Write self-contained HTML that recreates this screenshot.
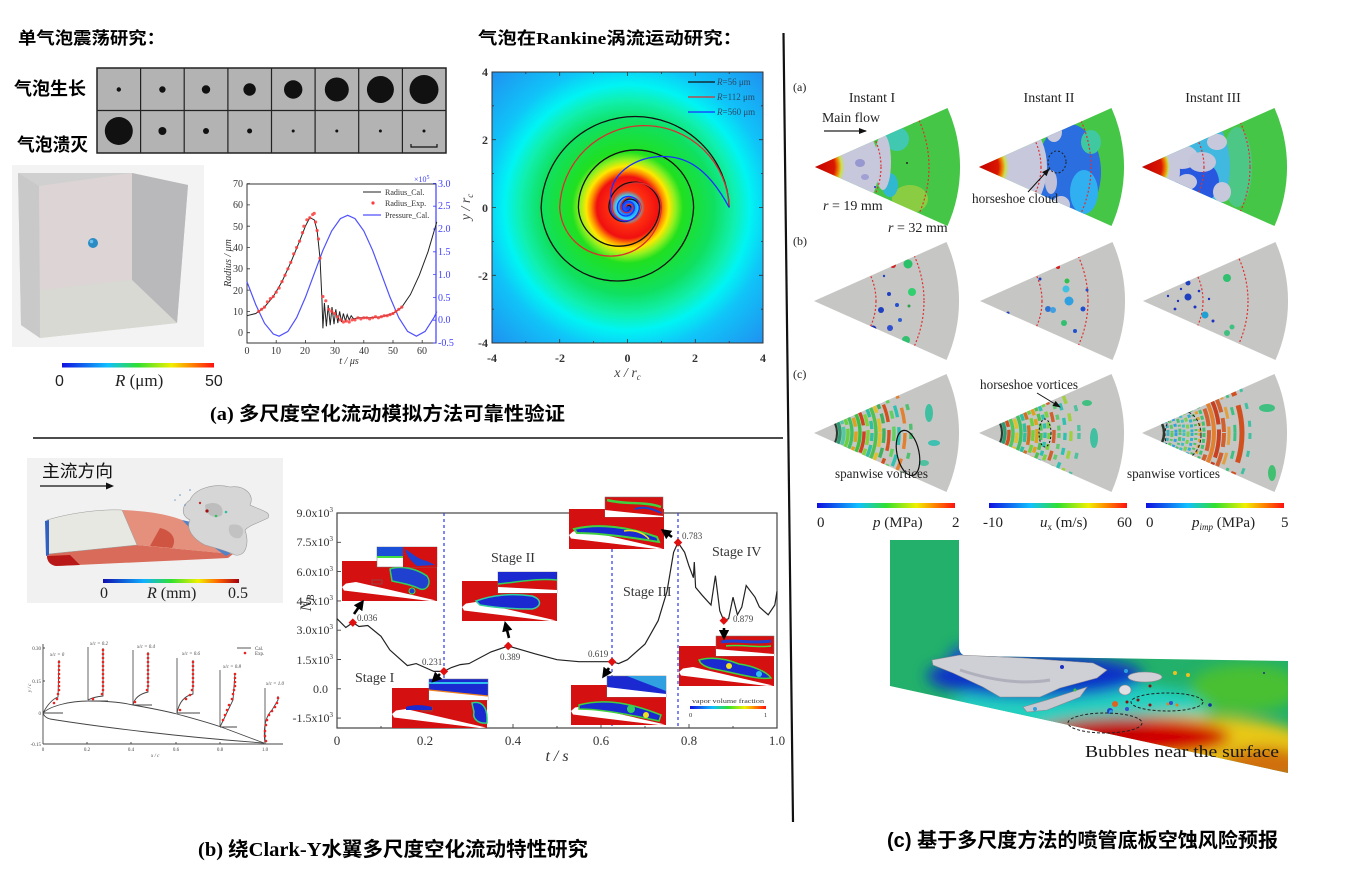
<!DOCTYPE html>
<html><head><meta charset="utf-8"><style>
html,body{margin:0;padding:0;background:#fff;}
svg{display:block;}
.cjk{font-family:"Liberation Serif","Noto Sans CJK SC",sans-serif;font-weight:bold;}
.sans{font-family:"Liberation Sans","Noto Sans CJK SC",sans-serif;}
.ser{font-family:"Liberation Serif","Noto Serif CJK SC",serif;}
</style></head><body>
<svg width="1361" height="877" viewBox="0 0 1361 877" xmlns="http://www.w3.org/2000/svg">
<defs>
<linearGradient id="jet" x1="0" x2="1" y1="0" y2="0"><stop offset="0" stop-color="#1010e0"/><stop offset=".3" stop-color="#10c0ff"/><stop offset=".5" stop-color="#30e030"/><stop offset=".72" stop-color="#f0f000"/><stop offset=".86" stop-color="#ff8000"/><stop offset="1" stop-color="#ff1010"/></linearGradient>
<linearGradient id="jet2" x1="0" x2="1" y1="0" y2="0"><stop offset="0" stop-color="#1010b0"/><stop offset=".3" stop-color="#10b0ff"/><stop offset=".5" stop-color="#30e030"/><stop offset=".7" stop-color="#f0f000"/><stop offset=".85" stop-color="#ff6000"/><stop offset="1" stop-color="#a00010"/></linearGradient>
<radialGradient id="rk" gradientUnits="userSpaceOnUse" cx="627.5" cy="207.5" r="192">
<stop offset="0" stop-color="#1030ff"/><stop offset=".035" stop-color="#1a7cff"/><stop offset=".06" stop-color="#30d8ff"/><stop offset=".09" stop-color="#ff3010"/><stop offset=".16" stop-color="#f01010"/><stop offset=".19" stop-color="#ff9000"/><stop offset=".215" stop-color="#ffe800"/><stop offset=".25" stop-color="#90f020"/><stop offset=".29" stop-color="#20e020"/><stop offset=".45" stop-color="#10e060"/><stop offset=".56" stop-color="#10f0b0"/><stop offset=".64" stop-color="#00f4f4"/><stop offset=".75" stop-color="#10c4f8"/><stop offset="1" stop-color="#2090f0"/>
</radialGradient>
<radialGradient id="tip" gradientUnits="userSpaceOnUse" cx="0" cy="0" r="30"><stop offset="0" stop-color="#c80000"/><stop offset=".65" stop-color="#d81800"/><stop offset=".78" stop-color="#f08000"/><stop offset=".88" stop-color="#c8e050"/><stop offset="1" stop-color="#c8c8da"/></radialGradient>
<clipPath id="wedge"><path d="M0,0 L132.5,-59 A145,145 0 0 1 132.5,59 Z"/></clipPath>
<clipPath id="rkclip"><rect x="492" y="72" width="271" height="271"/></clipPath>
<clipPath id="noz"><path d="M890,540 L959,540 L959,648 Q960,656 968,656 L1288,661 L1288,773 L890,686 Z"/></clipPath>
<filter id="blur" x="-50%" y="-50%" width="200%" height="200%"><feGaussianBlur stdDeviation="7"/></filter>
<marker id="ah" markerWidth="4" markerHeight="4" refX="2" refY="2" orient="auto"><path d="M0,0 L4,2 L0,4 Z" fill="#000"/></marker>
<marker id="ah2" markerWidth="8" markerHeight="6" refX="7" refY="3" orient="auto" markerUnits="userSpaceOnUse"><path d="M0,0 L8,3 L0,6 Z" fill="#111"/></marker>
<g id="inset"><rect x="0" y="0" width="95" height="40" fill="#d41010"/><polygon points="0,26 4,22.5 14,21 94,39.5 88,40 2,29.5" fill="#fff"/><rect x="30" y="19" width="10" height="4" fill="none" stroke="#666" stroke-width=".6"/></g>
</defs>

<rect width="1361" height="877" fill="#fff"/>

<line x1="33" y1="438" x2="783" y2="438" stroke="#111" stroke-width="1.6"/>
<line x1="783.5" y1="33" x2="793" y2="822" stroke="#111" stroke-width="2.2"/>

<text x="18" y="44" class="cjk" font-size="17" textLength="147" lengthAdjust="spacingAndGlyphs">单气泡震荡研究：</text>
<text x="14" y="95" class="cjk" font-size="18" textLength="72" lengthAdjust="spacingAndGlyphs">气泡生长</text>
<text x="17" y="151" class="cjk" font-size="18" textLength="71" lengthAdjust="spacingAndGlyphs">气泡溃灭</text>

<rect x="97" y="68" width="349" height="85" fill="#b3b3b3" stroke="#222" stroke-width="1.5"/>
<g stroke="#222" stroke-width="1.2">
<line x1="140.6" y1="68" x2="140.6" y2="153"/><line x1="184.2" y1="68" x2="184.2" y2="153"/><line x1="227.9" y1="68" x2="227.9" y2="153"/><line x1="271.5" y1="68" x2="271.5" y2="153"/><line x1="315.1" y1="68" x2="315.1" y2="153"/><line x1="358.7" y1="68" x2="358.7" y2="153"/><line x1="402.4" y1="68" x2="402.4" y2="153"/><line x1="97" y1="110.5" x2="446" y2="110.5"/>
</g>
<g fill="#111">
<circle cx="118.8" cy="89.5" r="2.2"/><circle cx="162.4" cy="89.5" r="3.2"/><circle cx="206" cy="89.5" r="4.2"/><circle cx="249.6" cy="89.5" r="6.2"/><circle cx="293.2" cy="89.5" r="9.2"/><circle cx="336.8" cy="89.5" r="12"/><circle cx="380.4" cy="89.5" r="13.5"/><circle cx="424" cy="89.5" r="14.5"/>
<circle cx="118.8" cy="131" r="14"/><circle cx="162.4" cy="131" r="4"/><circle cx="206" cy="131" r="3"/><circle cx="249.6" cy="131" r="2.5"/><circle cx="293.2" cy="131" r="1.5"/><circle cx="336.8" cy="131" r="1.5"/><circle cx="380.4" cy="131" r="1.5"/><circle cx="424" cy="131" r="1.5"/>
</g>
<path d="M411,144 L411,147 L437,147 L437,144" fill="none" stroke="#111" stroke-width="1.2"/>

<rect x="12" y="165" width="192" height="182" fill="#f3f3f3"/>
<polygon points="18,173 132,173 188,185 177,323 40,338 21,325" fill="#d0d0d0"/>
<polygon points="39,186 132,173 132,280 40,290" fill="#ddd5d5"/>
<polygon points="132,173 188,185 177,323 132,280" fill="#b9b9bc"/>
<polygon points="40,290 132,280 177,323 40,338" fill="#d9d9d3"/>
<polygon points="18,173 39,186 40,338 21,325" fill="#c9c9c9"/>
<circle cx="93" cy="243" r="5" fill="#2a8cc4"/>
<circle cx="91.5" cy="241.5" r="1.8" fill="#6cc0ea"/>
<rect x="62" y="363" width="152" height="4.5" fill="url(#jet)"/>
<text x="55" y="386" class="sans" font-size="16" fill="#222">0</text>
<text x="115" y="386" class="ser" font-size="17" fill="#222"><tspan font-style="italic">R</tspan> (μm)</text>
<text x="205" y="386" class="sans" font-size="16" fill="#222">50</text>

<rect x="247" y="184" width="189" height="159" fill="none" stroke="#333" stroke-width="1"/>
<line x1="436" y1="184" x2="436" y2="343" stroke="#4040ff" stroke-width="1.2"/>
<g stroke="#333" stroke-width=".8">
<path d="M247,332.7h3M247,311.4h3M247,290.1h3M247,268.8h3M247,247.5h3M247,226.2h3M247,204.9h3M247,183.6h3M247,343v-3M276.2,343v-3M305.4,343v-3M334.6,343v-3M363.8,343v-3M393,343v-3M422.2,343v-3"/>
</g>
<path d="M436,343h-3M436,320.2h-3M436,297.4h-3M436,274.6h-3M436,251.8h-3M436,229h-3M436,206.2h-3M436,183.4h-3" stroke="#4040ff" stroke-width=".8"/>
<g class="ser" font-size="10" fill="#333" text-anchor="end">
<text x="243" y="336">0</text><text x="243" y="315">10</text><text x="243" y="294">20</text><text x="243" y="272">30</text><text x="243" y="251">40</text><text x="243" y="230">50</text><text x="243" y="208">60</text><text x="243" y="187">70</text>
</g>
<g class="ser" font-size="10" fill="#333" text-anchor="middle">
<text x="247" y="354">0</text><text x="276" y="354">10</text><text x="305" y="354">20</text><text x="335" y="354">30</text><text x="364" y="354">40</text><text x="393" y="354">50</text><text x="422" y="354">60</text>
</g>
<text x="349" y="364" class="ser" font-size="10" font-style="italic" fill="#333" text-anchor="middle">t / μs</text>
<text transform="translate(231,263) rotate(-90)" class="ser" font-size="10" font-style="italic" fill="#333" text-anchor="middle">Radius / μm</text>
<g class="ser" font-size="10" fill="#4040ff">
<text x="438" y="187">3.0</text><text x="438" y="209">2.5</text><text x="438" y="232">2.0</text><text x="438" y="255">1.5</text><text x="438" y="278">1.0</text><text x="438" y="301">0.5</text><text x="438" y="323">0.0</text><text x="438" y="346">-0.5</text>
<text x="414" y="182" font-size="8">×10<tspan dy="-3" font-size="6">5</tspan></text>
</g>
<polyline fill="none" stroke="#5050ff" stroke-width="1.2" points="247,281.8 255.8,304.8 264.5,323.2 273.3,334 279.1,336.2 287.9,331.4 296.6,317.7 305.4,297.4 314.2,273.7 322.9,250.3 331.7,230.9 340.4,218.6 347.7,215.3 355,218.6 363.8,230.9 372.6,250.3 381.3,273.7 390.1,297.4 398.8,317.7 407.6,331.4 416.4,336.2 425.1,331.4 433.9,317.7 436.8,311.6"/>
<polyline fill="none" stroke="#222" stroke-width="1" points="247,315.7 255.8,313.5 264.5,307.1 273.3,296.5 282,281.6 290.8,262.4 299.6,241.1 305.4,226.2 309.8,217.7 314.2,219.8 317.1,230.5 320,258.1 322,300.8 322.9,328.4 324.4,302.9 326.4,326.3 328.2,305 330.2,325.2 332,307.1 334,324.2 335.8,309.3 337.8,323.1 339.6,311.4 341.6,322 343.4,313.5 345.4,321 347.2,314.6 349.2,319.9 351.2,315.7 353.6,318.9 358,317.8 369.6,317.8 381.3,316.7 393,313.5 401.8,307.1 410.5,294.4 419.3,275.2 428,251.8 436.8,221.9"/>
<g fill="#ff3b3b" opacity=".85">
<circle cx="258.7" cy="311.4" r="1.6"/><circle cx="261.6" cy="309.3" r="1.6"/><circle cx="264.5" cy="307.1" r="1.6"/><circle cx="267.4" cy="301.8" r="1.6"/><circle cx="270.4" cy="298.6" r="1.6"/><circle cx="273.3" cy="296.5" r="1.6"/><circle cx="276.2" cy="292.2" r="1.6"/><circle cx="279.1" cy="288" r="1.6"/><circle cx="282" cy="281.6" r="1.6"/><circle cx="285" cy="275.2" r="1.6"/><circle cx="287.9" cy="268.8" r="1.6"/><circle cx="290.8" cy="262.4" r="1.6"/><circle cx="293.7" cy="253.9" r="1.6"/><circle cx="296.6" cy="247.5" r="1.6"/><circle cx="299.6" cy="241.1" r="1.6"/><circle cx="302.5" cy="232.6" r="1.6"/><circle cx="303.9" cy="226.2" r="1.6"/><circle cx="306.9" cy="219.8" r="1.6"/><circle cx="309.8" cy="217.7" r="1.6"/><circle cx="312.7" cy="214.5" r="1.6"/><circle cx="314.2" cy="213.4" r="1.6"/><circle cx="315.6" cy="222" r="1.6"/><circle cx="317.1" cy="230.5" r="1.6"/><circle cx="318.5" cy="239" r="1.6"/><circle cx="320" cy="258.1" r="1.6"/>
<circle cx="322.9" cy="296.5" r="1.6"/><circle cx="325.8" cy="300.8" r="1.6"/><circle cx="328.8" cy="309.3" r="1.6"/><circle cx="331.7" cy="311.4" r="1.6"/><circle cx="334.6" cy="313.5" r="1.6"/><circle cx="337.5" cy="316.7" r="1.6"/><circle cx="340.4" cy="319.9" r="1.6"/><circle cx="343.4" cy="322" r="1.6"/><circle cx="346.3" cy="321" r="1.6"/><circle cx="349.2" cy="322" r="1.6"/><circle cx="352.1" cy="319.9" r="1.6"/><circle cx="355" cy="319.9" r="1.6"/><circle cx="358" cy="317.8" r="1.6"/><circle cx="360.9" cy="318.9" r="1.6"/><circle cx="363.8" cy="317.8" r="1.6"/><circle cx="366.7" cy="317.8" r="1.6"/><circle cx="369.6" cy="318.9" r="1.6"/><circle cx="372.6" cy="317.8" r="1.6"/><circle cx="375.5" cy="316.7" r="1.6"/><circle cx="378.4" cy="317.8" r="1.6"/><circle cx="381.3" cy="316.7" r="1.6"/><circle cx="384.2" cy="315.7" r="1.6"/><circle cx="387.2" cy="315.7" r="1.6"/><circle cx="390.1" cy="314.6" r="1.6"/><circle cx="393" cy="313.5" r="1.6"/><circle cx="395.9" cy="311.4" r="1.6"/><circle cx="398.8" cy="309.3" r="1.6"/><circle cx="401.8" cy="307.1" r="1.6"/>
</g>
<line x1="363" y1="192" x2="381" y2="192" stroke="#222" stroke-width="1"/>
<circle cx="373" cy="203" r="1.6" fill="#ff3b3b"/>
<line x1="363" y1="215" x2="381" y2="215" stroke="#5050ff" stroke-width="1.2"/>
<g class="ser" font-size="8" fill="#333"><text x="385" y="195">Radius_Cal.</text><text x="385" y="206">Radius_Exp.</text><text x="385" y="218">Pressure_Cal.</text></g>

<text x="478" y="44" class="cjk" font-size="17" textLength="264" lengthAdjust="spacingAndGlyphs">气泡在Rankine涡流运动研究：</text>
<rect x="492" y="72" width="271" height="271" fill="url(#rk)"/>
<g clip-path="url(#rkclip)" fill="none" stroke-width="1.3">
<path stroke="#111" d="M729.2,207.5 A94.1,94.1 0 0 0 541.1,207.5 A76.3,76.3 0 0 0 693.6,207.5 A57.6,57.6 0 0 0 578.4,207.5 A40.7,40.7 0 0 0 659.7,207.5 A25.4,25.4 0 0 0 608.9,207.5 A15.3,15.3 0 0 0 639.4,207.5 A9.4,9.4 0 0 0 620.7,207.5 A5.2,5.2 0 0 0 630.9,207.5 A2.6,2.6 0 0 0 625.8,207.5"/>
<path stroke="#d83030" d="M729.2,207.5 A84.8,84.8 0 0 0 559.7,207.5 A50.9,50.9 0 0 0 661.4,207.5 A24.6,24.6 0 0 0 612.2,207.5 A14.5,14.5 0 0 0 641.1,207.5 A10.2,10.2 0 0 0 620.7,207.5 A6,6 0 0 0 632.6,207.5 A3.4,3.4 0 0 0 625.8,207.5"/>
<path stroke="#1a30ff" d="M729.2,207.5 C705.5,163.4 681.7,155 658,156.65 C634.3,158.3 608.9,173.6 610.55,200.7 L610.55,207.5 A14.45,14.45 0 0 0 639.4,207.5 A11.05,11.05 0 0 0 617.3,207.5 A8.5,8.5 0 0 0 634.3,207.5 A5.95,5.95 0 0 0 622.4,207.5 A4.25,4.25 0 0 0 630.9,207.5"/>
</g>
<rect x="492" y="72" width="271" height="271" fill="none" stroke="#333" stroke-width="1"/>
<path stroke="#333" stroke-width=".8" d="M491.9,343v-4M525.8,343v-2M559.7,343v-4M593.6,343v-2M627.5,343v-4M661.4,343v-2M695.3,343v-4M729.2,343v-2M763.1,343v-4M491.9,72v4M525.8,72v2M559.7,72v4M593.6,72v2M627.5,72v4M661.4,72v2M695.3,72v4M729.2,72v2M763.1,72v4M492,71.9h4M492,105.8h2M492,139.7h4M492,173.6h2M492,207.5h4M492,241.4h2M492,275.3h4M492,309.2h2M492,343.1h4M763,71.9h-4M763,105.8h-2M763,139.7h-4M763,173.6h-2M763,207.5h-4M763,241.4h-2M763,275.3h-4M763,309.2h-2M763,343.1h-4"/>
<g class="ser" font-size="12" font-weight="bold" fill="#333" text-anchor="end">
<text x="488" y="76">4</text><text x="488" y="144">2</text><text x="488" y="212">0</text><text x="488" y="280">-2</text><text x="488" y="347">-4</text>
</g>
<g class="ser" font-size="12" font-weight="bold" fill="#333" text-anchor="middle">
<text x="492" y="362">-4</text><text x="560" y="362">-2</text><text x="627.5" y="362">0</text><text x="695" y="362">2</text><text x="763" y="362">4</text>
</g>
<text x="627.5" y="377" class="ser" font-size="14" font-style="italic" fill="#444" text-anchor="middle">x / r<tspan font-size="9" dy="3">c</tspan></text>
<text transform="translate(470,207) rotate(-90)" class="ser" font-size="14" font-style="italic" fill="#444" text-anchor="middle">y / r<tspan font-size="9" dy="3">c</tspan></text>
<line x1="688" y1="82" x2="715" y2="82" stroke="#111" stroke-width="1.2"/>
<line x1="688" y1="97" x2="715" y2="97" stroke="#d83030" stroke-width="1.2"/>
<line x1="688" y1="112" x2="715" y2="112" stroke="#1a30ff" stroke-width="1.2"/>
<g class="ser" font-size="9" fill="#2a4a6a"><text x="717" y="85"><tspan font-style="italic">R</tspan>=56 μm</text><text x="717" y="100"><tspan font-style="italic">R</tspan>=112 μm</text><text x="717" y="115"><tspan font-style="italic">R</tspan>=560 μm</text></g>

<text x="210" y="420" class="cjk" font-size="19" textLength="355" lengthAdjust="spacingAndGlyphs">(a) 多尺度空化流动模拟方法可靠性验证</text>

<rect x="27" y="458" width="256" height="145" fill="#f1f1f1"/>
<text x="42" y="477" class="sans" font-size="17" fill="#111" textLength="71" lengthAdjust="spacingAndGlyphs">主流方向</text>
<line x1="40" y1="486" x2="108" y2="486" stroke="#111" stroke-width="1.3"/>
<path d="M106,482.5 L114,486 L106,489.5 Z" fill="#111"/>
<path d="M47,556 C47,561 50,565 56,566 L228,558 L233,554 L137,545 L48,554 Z" fill="#d96b5a"/>
<path d="M47,556 C47,561 50,565 56,566 L80,565 L70,555 Z" fill="#b81818"/>
<path d="M122,510 C150,511 170,515 182,520 L200,535 L232,554 L137,545 Z" fill="#e4907d"/>
<path d="M160,528 C170,530 178,538 172,548 L150,546 Z" fill="#c83a2a" opacity=".7"/>
<path d="M182,520 L200,524 L233,552 L226,556 L198,536 Z" fill="#5282c8"/>
<path d="M47,520 C70,513 100,509 122,510 L137,545 L48,554 Z" fill="#e8e8e3" stroke="#999" stroke-width=".5"/>
<path d="M45,521 L49,520 L49,555 L46,556 Z" fill="#3060c0"/>
<path d="M190,500 C195,488 215,483 230,487 C245,485 255,495 250,505 C260,510 272,512 268,518 C258,523 250,525 245,530 C250,545 245,557 235,555 C225,550 215,548 205,545 C195,540 185,530 190,520 C180,515 182,505 190,500 Z" fill="#d6d6d6" stroke="#9a9a9a" stroke-width=".6"/>
<path d="M205,505 C215,500 225,505 222,515 C215,520 205,515 205,505 Z" fill="#bdbdbd"/>
<path d="M230,525 C240,522 248,530 240,538 C232,540 226,532 230,525 Z" fill="#c2c2c2"/>
<g><circle cx="207" cy="511" r="1.6" fill="#a01010"/><circle cx="216" cy="516" r="1.3" fill="#30c060"/><circle cx="226" cy="512" r="1.3" fill="#30c0a0"/><circle cx="200" cy="503" r="1.2" fill="#c03030"/><circle cx="190" cy="490" r="0.8" fill="#6090c0"/><circle cx="180" cy="495" r="0.8" fill="#6090c0"/><circle cx="175" cy="500" r="0.8" fill="#80a0c0"/><circle cx="185" cy="505" r="0.8" fill="#6090c0"/></g>
<rect x="103" y="579" width="136" height="4" fill="url(#jet2)"/>
<g class="ser" font-size="16" fill="#222"><text x="100" y="598">0</text><text x="147" y="598"><tspan font-style="italic">R</tspan> (mm)</text><text x="228" y="598">0.5</text></g>

<g stroke="#444" stroke-width=".9" fill="none">
<line x1="43" y1="644" x2="43" y2="744"/><line x1="43" y1="744" x2="283" y2="744"/>
<path d="M43,713 C50,706 70,701 88,701 C105,701 120,702 133,705 C150,708 165,711 177,714 C195,719 210,723 221,727 C235,732 250,738 264,743"/>
<path d="M43,713 C44,716 46,718 50,719 C100,727 180,737 264,743"/>
<path d="M43,713h20M88,701h20M133,705h19M177,713h23M220,727h17M265,744h17"/>
<path d="M88,647V700M133,650V705M177,658V713M220,670V727M265,688V744" stroke="#555"/>
<path d="M43,713 Q50,700 58,697 L59,660M88,700 Q93,697 103,696 L103,648M133,705 Q135,695 148,692 L148,652M177,713 Q180,697 193,694 L193,660M220,727 L233,700 L235,673M265,744 Q262,720 272,710 L278,700 L278,696"/>
<path d="M43,648h2M43,681h2M43,713h2M87,744v-2M131,744v-2M176,744v-2M220,744v-2M265,744v-2"/>
</g>
<g fill="#ee2020">
<circle cx="59" cy="662" r="1.3"/><circle cx="59" cy="666" r="1.3"/><circle cx="59" cy="670" r="1.3"/><circle cx="59" cy="674" r="1.3"/><circle cx="59" cy="678" r="1.3"/><circle cx="59" cy="682" r="1.3"/><circle cx="59" cy="686" r="1.3"/><circle cx="59" cy="690" r="1.3"/><circle cx="58" cy="694" r="1.3"/><circle cx="57" cy="699" r="1.3"/><circle cx="54" cy="703" r="1.3"/>
<circle cx="103" cy="650" r="1.3"/><circle cx="103" cy="654" r="1.3"/><circle cx="103" cy="658" r="1.3"/><circle cx="103" cy="662" r="1.3"/><circle cx="103" cy="666" r="1.3"/><circle cx="103" cy="670" r="1.3"/><circle cx="103" cy="674" r="1.3"/><circle cx="103" cy="678" r="1.3"/><circle cx="103" cy="682" r="1.3"/><circle cx="103" cy="686" r="1.3"/><circle cx="103" cy="690" r="1.3"/><circle cx="102" cy="694" r="1.3"/><circle cx="93" cy="699" r="1.3"/>
<circle cx="148" cy="654" r="1.3"/><circle cx="148" cy="658" r="1.3"/><circle cx="148" cy="662" r="1.3"/><circle cx="148" cy="666" r="1.3"/><circle cx="148" cy="670" r="1.3"/><circle cx="148" cy="674" r="1.3"/><circle cx="148" cy="678" r="1.3"/><circle cx="148" cy="682" r="1.3"/><circle cx="148" cy="686" r="1.3"/><circle cx="147" cy="690" r="1.3"/><circle cx="135" cy="702" r="1.3"/>
<circle cx="193" cy="662" r="1.3"/><circle cx="193" cy="666" r="1.3"/><circle cx="193" cy="670" r="1.3"/><circle cx="193" cy="674" r="1.3"/><circle cx="193" cy="678" r="1.3"/><circle cx="193" cy="682" r="1.3"/><circle cx="193" cy="686" r="1.3"/><circle cx="192" cy="690" r="1.3"/><circle cx="190" cy="695" r="1.3"/><circle cx="186" cy="699" r="1.3"/><circle cx="180" cy="710" r="1.3"/>
<circle cx="235" cy="674" r="1.3"/><circle cx="235" cy="678" r="1.3"/><circle cx="235" cy="682" r="1.3"/><circle cx="235" cy="686" r="1.3"/><circle cx="234" cy="690" r="1.3"/><circle cx="233" cy="694" r="1.3"/><circle cx="232" cy="699" r="1.3"/><circle cx="229" cy="705" r="1.3"/><circle cx="227" cy="710" r="1.3"/><circle cx="225" cy="715" r="1.3"/><circle cx="223" cy="720" r="1.3"/>
<circle cx="278" cy="698" r="1.3"/><circle cx="277" cy="703" r="1.3"/><circle cx="275" cy="707" r="1.3"/><circle cx="272" cy="711" r="1.3"/><circle cx="269" cy="715" r="1.3"/><circle cx="267" cy="720" r="1.3"/><circle cx="266" cy="725" r="1.3"/><circle cx="265" cy="731" r="1.3"/><circle cx="265" cy="736" r="1.3"/><circle cx="266" cy="741" r="1.3"/>
<circle cx="245" cy="653" r="1.3"/>
</g>
<line x1="237" y1="648" x2="251" y2="648" stroke="#444" stroke-width=".9"/>
<g class="ser" font-size="5" fill="#444" font-style="italic">
<text x="255" y="650" font-style="normal">Cal.</text><text x="255" y="655" font-style="normal">Exp.</text>
<text x="50" y="656">x/c = 0</text><text x="90" y="645">x/c = 0.2</text><text x="137" y="648">x/c = 0.4</text><text x="182" y="655">x/c = 0.6</text><text x="223" y="668">x/c = 0.8</text><text x="266" y="685">x/c = 1.0</text>
<text x="151" y="757">x / c</text>
<text transform="translate(31,692) rotate(-90)">y / c</text>
</g>
<g class="ser" font-size="5" fill="#444" text-anchor="end">
<text x="41" y="650">0.30</text><text x="41" y="683">0.15</text><text x="41" y="715">0</text><text x="41" y="746">-0.15</text>
</g>
<g class="ser" font-size="5" fill="#444" text-anchor="middle">
<text x="43" y="751">0</text><text x="87" y="751">0.2</text><text x="131" y="751">0.4</text><text x="176" y="751">0.6</text><text x="220" y="751">0.8</text><text x="265" y="751">1.0</text>
</g>

<rect x="337" y="513" width="440" height="215" fill="#fff" stroke="#444" stroke-width="1.2"/>
<path stroke="#444" stroke-width=".9" d="M337,513h4M337,542.3h4M337,571.6h4M337,600.9h4M337,630.2h4M337,659.5h4M337,688.8h4M337,718.1h4M381,728v-2M425,728v-4M469,728v-2M513,728v-4M557,728v-2M601,728v-4M645,728v-2M689,728v-4M733,728v-2"/>
<g class="ser" font-size="12" fill="#333" text-anchor="end">
<text x="333" y="517">9.0x10<tspan dy="-5" font-size="7">3</tspan></text>
<text x="333" y="546">7.5x10<tspan dy="-5" font-size="7">3</tspan></text>
<text x="333" y="576">6.0x10<tspan dy="-5" font-size="7">3</tspan></text>
<text x="333" y="605">4.5x10<tspan dy="-5" font-size="7">3</tspan></text>
<text x="333" y="634">3.0x10<tspan dy="-5" font-size="7">3</tspan></text>
<text x="333" y="664">1.5x10<tspan dy="-5" font-size="7">3</tspan></text>
<text x="328" y="693">0.0</text>
<text x="333" y="722">-1.5x10<tspan dy="-5" font-size="7">3</tspan></text>
</g>
<g class="ser" font-size="13" fill="#333" text-anchor="middle">
<text x="337" y="745">0</text><text x="425" y="745">0.2</text><text x="513" y="745">0.4</text><text x="601" y="745">0.6</text><text x="689" y="745">0.8</text><text x="777" y="745">1.0</text>
</g>
<text x="557" y="761" class="ser" font-size="16" font-style="italic" fill="#333" text-anchor="middle">t / s</text>
<text transform="translate(311,603) rotate(-90)" class="ser" font-size="16" font-style="italic" fill="#333" text-anchor="middle">N<tspan font-size="10" dy="3">B</tspan></text>
<g stroke="#3a48e8" stroke-width="1.3" stroke-dasharray="3,3"><line x1="444" y1="513" x2="444" y2="728"/><line x1="612" y1="513" x2="612" y2="728"/><line x1="678" y1="513" x2="678" y2="728"/></g>
<polyline fill="none" stroke="#222" stroke-width="1.2" points="337,618.7 345.8,627.5 352.8,622.6 359,626.5 367.8,625.5 381,636.3 389.8,649.9 398.6,657.8 407.4,665.6 416.2,663.6 425,667.5 433.8,671.4 443.9,671.4 451.4,667.5 460.2,664.6 469,663.6 491,651.9 508.2,646 521.8,649.9 535,653.8 557,659.7 579,661.7 601,661.7 612,661.7 618.6,663.6 627.4,659.7 645,644.1 658.2,620.6 667,591.4 673.6,552.3 678,542.5 684.6,552.3 689,566 693.4,577.7 694.3,562 695.6,587.4 702.2,595.3 711,605 715.4,575.7 719.8,610.9 723.8,620.6 728.6,618.7 733,597.2 737.4,614.8 741.8,607 746.2,585.5 755,597.2 759.4,607 768.2,614.8 774.8,605 777,591.4"/>
<g transform="translate(342,561)"><use href="#inset"/><path d="M48,8 C60,4 75,8 85,15 C90,22 85,30 78,28 C70,24 60,22 50,20 Z" fill="#2040d0" stroke="#30d060" stroke-width="1.5"/><circle cx="70" cy="30" r="3" fill="#2040d0" stroke="#40e040"/></g>
<g transform="translate(377,547)"><rect width="60" height="20" fill="#fff" stroke="#777" stroke-width=".5"/><rect width="26" height="9" fill="#1a50d8"/><rect y="9" width="26" height="2" fill="#40e040"/><rect x="26" width="34" height="20" fill="#d41010"/><path d="M28,2 C35,6 40,12 50,14 L58,18 L40,19 C35,15 30,10 28,2Z" fill="#2040d0"/></g>
<g transform="translate(462,581)"><use href="#inset"/><path d="M14,20 C30,14 50,12 70,15 C80,18 80,26 70,28 C50,28 30,26 18,24 Z" fill="#1a2ad0" stroke="#30d0a0" stroke-width="1.5"/></g>
<g transform="translate(498,572)"><rect width="59" height="21" fill="#d41010" stroke="#777" stroke-width=".5"/><path d="M0,0 H59 V8 C40,6 20,10 0,12 Z" fill="#1a2ad0"/><path d="M0,12 C20,10 40,6 59,8" stroke="#30d060" stroke-width="1.5" fill="none"/><polygon points="0,15 59,18 59,21 0,21" fill="#fff"/></g>
<g transform="translate(569,509)"><use href="#inset"/><path d="M5,20 C30,14 60,18 88,28 L90,33 C60,28 30,24 8,24 Z" fill="#1a2ad0" stroke="#40d040" stroke-width="2"/><path d="M55,22 C65,20 75,24 80,30" stroke="#f0e020" stroke-width="1.5" fill="none"/></g>
<g transform="translate(605,497)"><rect width="58" height="20" fill="#d41010" stroke="#777" stroke-width=".5"/><path d="M2,3 C20,8 40,4 56,10" stroke="#40d040" stroke-width="2.5" fill="none"/><path d="M30,12 C40,9 48,12 56,16" stroke="#1a40d0" stroke-width="2" fill="none"/><polygon points="0,13 58,19 58,20 0,20" fill="#fff"/></g>
<g transform="translate(392,688)"><use href="#inset"/><path d="M14,19 C22,16 32,17 40,19 L40,22 L14,22 Z" fill="#1a2ad0"/><path d="M80,15 C90,12 95,20 95,30 L95,35 C88,36 80,32 82,24 Z" fill="#1a2ad0" stroke="#30d080" stroke-width="1.5"/></g>
<g transform="translate(429,679)"><rect width="59" height="21" fill="#1a2ad0" stroke="#777" stroke-width=".5"/><path d="M0,4 H59" stroke="#30c0f0" stroke-width="2"/><polygon points="0,11 59,17 59,21 0,21" fill="#fff"/><path d="M0,11 L59,17" stroke="#f08020" stroke-width="1.2"/></g>
<g transform="translate(571,685)"><use href="#inset"/><path d="M8,20 C30,14 55,16 90,30 L88,36 C60,30 30,24 8,24 Z" fill="#1a2ad0" stroke="#40d040" stroke-width="1.5"/><circle cx="60" cy="24" r="4" fill="#30d060"/><circle cx="75" cy="30" r="3" fill="#f0e020"/></g>
<g transform="translate(607,676)"><rect width="59" height="21" fill="#1a2ad0" stroke="#777" stroke-width=".5"/><path d="M20,0 L59,15 L59,0 Z" fill="#30a0e0"/><polygon points="0,11 59,18 59,21 0,21" fill="#fff"/></g>
<g transform="translate(679,646)"><use href="#inset"/><path d="M20,14 C35,10 50,14 60,18 C75,20 88,26 92,32 C80,34 60,28 40,24 C30,22 22,20 20,14 Z" fill="#1a2ad0" stroke="#40d040" stroke-width="1.5"/><circle cx="50" cy="20" r="3" fill="#f0e020"/><circle cx="80" cy="28" r="3" fill="#30c0f0"/></g>
<g transform="translate(716,636)"><rect width="58" height="20" fill="#d41010" stroke="#777" stroke-width=".5"/><path d="M5,6 C20,3 35,8 55,5" stroke="#2040d0" stroke-width="3" fill="none"/><path d="M10,10 C25,8 40,12 55,10" stroke="#40e040" stroke-width="1.5" fill="none"/><polygon points="0,13 58,18 58,20 0,20" fill="#fff"/></g>
<rect x="690" y="706" width="76" height="3" fill="url(#jet)"/>
<g class="ser" font-size="6.5" fill="#333"><text x="692" y="703" textLength="72" lengthAdjust="spacingAndGlyphs">vapor volume fraction</text><text x="689" y="717">0</text><text x="764" y="717">1</text></g>
<g stroke="#000" stroke-width="2.6" marker-end="url(#ah)" fill="none">
<line x1="354" y1="614" x2="361" y2="604"/>
<line x1="440" y1="674" x2="435" y2="679"/>
<line x1="509" y1="638" x2="506" y2="626"/>
<line x1="609" y1="668" x2="605" y2="674"/>
<line x1="672" y1="537" x2="665" y2="532"/>
<line x1="724" y1="628" x2="724" y2="635"/>
</g>
<g fill="#e01010">
<rect x="349.8" y="619.6" width="6" height="6" transform="rotate(45 352.8 622.6)"/>
<rect x="440.9" y="668.4" width="6" height="6" transform="rotate(45 443.9 671.4)"/>
<rect x="505.2" y="643" width="6" height="6" transform="rotate(45 508.2 646)"/>
<rect x="609" y="658.7" width="6" height="6" transform="rotate(45 612 661.7)"/>
<rect x="675" y="539.5" width="6" height="6" transform="rotate(45 678 542.5)"/>
<rect x="720.8" y="617.6" width="6" height="6" transform="rotate(45 723.8 620.6)"/>
</g>
<g class="ser" font-size="9" fill="#444">
<text x="357" y="621">0.036</text><text x="422" y="665">0.231</text><text x="500" y="660">0.389</text><text x="588" y="657">0.619</text><text x="682" y="539">0.783</text><text x="733" y="622">0.879</text>
</g>
<g class="ser" font-size="14" fill="#333">
<text x="355" y="682">Stage I</text><text x="491" y="562">Stage II</text><text x="623" y="596">Stage III</text><text x="712" y="556">Stage IV</text>
</g>

<text x="198" y="856" class="cjk" font-size="20" textLength="390" lengthAdjust="spacingAndGlyphs">(b) 绕Clark-Y水翼多尺度空化流动特性研究</text>

<g class="ser" font-size="12" fill="#222"><text x="793" y="91">(a)</text><text x="793" y="245">(b)</text><text x="793" y="378">(c)</text></g>
<g class="ser" font-size="14" fill="#222" text-anchor="middle"><text x="872" y="102">Instant I</text><text x="1049" y="102">Instant II</text><text x="1213" y="102">Instant III</text></g>

<g transform="translate(815,167)"><g clip-path="url(#wedge)">
<rect x="0" y="-70" width="150" height="140" fill="#46c646"/>
<ellipse cx="95" cy="32" rx="18" ry="14" fill="#a8d040" opacity=".7"/>
<ellipse cx="82" cy="-28" rx="12" ry="12" fill="#40c8b0"/>
<ellipse cx="75" cy="18" rx="8" ry="12" fill="#30b8d0"/>
<ellipse cx="68" cy="-5" rx="8" ry="28" fill="#c6c6da"/>
<circle r="64" fill="#c8c8dc"/>
<ellipse cx="45" cy="-4" rx="5" ry="4" fill="#9898d0"/>
<ellipse cx="50" cy="10" rx="4" ry="3" fill="#a0a0d4"/>
<circle r="30" fill="url(#tip)"/>
<ellipse cx="85" cy="50" rx="7" ry="5" fill="#ccccd8"/><ellipse cx="92" cy="48" rx="3" ry="5" fill="#e06020"/>
<g fill="none" stroke="#e03030" stroke-width="1.2" stroke-dasharray="2,2"><circle r="66"/><circle r="114"/></g>
<circle cx="98" cy="-45" r="1.5" fill="#d02020"/><circle cx="55" cy="38" r="2" fill="#2030c0"/><circle cx="60" cy="20" r="1" fill="#2030c0"/><circle cx="92" cy="-4" r="1" fill="#222"/>
</g></g>
<g transform="translate(979,167)"><g clip-path="url(#wedge)">
<rect x="0" y="-70" width="150" height="140" fill="#46c646"/>
<ellipse cx="90" cy="5" rx="32" ry="48" fill="#2a6ee0"/>
<ellipse cx="105" cy="25" rx="14" ry="22" fill="#30b0f0"/>
<ellipse cx="112" cy="-25" rx="10" ry="12" fill="#40c8a0"/>
<circle r="68" fill="#c8c8dc"/>
<ellipse cx="75" cy="-35" rx="8" ry="10" fill="#c8c8dc"/><ellipse cx="82" cy="38" rx="9" ry="9" fill="#c8c8dc"/><ellipse cx="72" cy="15" rx="6" ry="12" fill="#c0c0d8"/>
<circle r="30" fill="url(#tip)"/>
<g fill="none" stroke="#e03030" stroke-width="1.2" stroke-dasharray="2,2"><circle r="62"/><circle r="112"/></g>
<ellipse cx="78" cy="-5" rx="9" ry="11" fill="none" stroke="#222" stroke-width="1" stroke-dasharray="2,2"/>
</g></g>
<g transform="translate(1142,167)"><g clip-path="url(#wedge)">
<rect x="0" y="-70" width="150" height="140" fill="#46c646"/>
<ellipse cx="95" cy="0" rx="15" ry="40" fill="#50c8a0" opacity=".7"/>
<circle r="88" fill="#40b8e0"/>
<ellipse cx="55" cy="15" rx="22" ry="22" fill="#2858e0"/>
<ellipse cx="40" cy="-10" rx="16" ry="12" fill="#c8c8dc"/><ellipse cx="60" cy="-5" rx="14" ry="10" fill="#c4c4da"/><ellipse cx="75" cy="-25" rx="10" ry="8" fill="#c8c8dc"/><ellipse cx="45" cy="15" rx="10" ry="8" fill="#c8c8dc"/><ellipse cx="80" cy="25" rx="9" ry="10" fill="#c8c8dc"/><ellipse cx="30" cy="5" rx="8" ry="14" fill="#c8c8dc"/>
<circle r="27" fill="url(#tip)"/>
<g fill="none" stroke="#e03030" stroke-width="1.2" stroke-dasharray="2,2"><circle r="62"/><circle r="108"/></g>
</g></g>
<line x1="824" y1="131" x2="866" y2="131" stroke="#222" stroke-width="1.2" marker-end="url(#ah2)"/>
<g class="ser" font-size="14" fill="#222">
<text x="822" y="122" textLength="58" lengthAdjust="spacingAndGlyphs">Main flow</text>
<text x="823" y="210"><tspan font-style="italic">r</tspan> = 19 mm</text>
<text x="888" y="232"><tspan font-style="italic">r</tspan> = 32 mm</text>
<text x="972" y="203" textLength="86" lengthAdjust="spacingAndGlyphs">horseshoe cloud</text>
</g>
<line x1="1028" y1="192" x2="1049" y2="169" stroke="#111" stroke-width="1" marker-end="url(#ah2)"/>

<g transform="translate(814,301)"><g clip-path="url(#wedge)">
<rect x="0" y="-70" width="150" height="140" fill="#c6c6c4"/>
<g fill="none" stroke="#e03030" stroke-width="1.2" stroke-dasharray="2,2"><circle r="62"/><circle r="110"/></g>
<circle cx="94" cy="-37" r="4.5" fill="#28c068"/><circle cx="79" cy="-36" r="3" fill="#d02020"/><circle cx="67" cy="9" r="3" fill="#2040c0"/><circle cx="98" cy="-9" r="4" fill="#30d070"/><circle cx="59" cy="28" r="3.5" fill="#2030b0"/><circle cx="76" cy="27" r="3" fill="#3050d0"/><circle cx="92" cy="39" r="4" fill="#30c070"/><circle cx="86" cy="19" r="2" fill="#3060d0"/><circle cx="83" cy="4" r="2" fill="#2050d0"/><circle cx="75" cy="-7" r="2" fill="#2040c0"/><circle cx="70" cy="-25" r="1.2" fill="#2040c0"/><circle cx="95" cy="5" r="1.5" fill="#30a050"/>
</g></g>
<g transform="translate(980,301)"><g clip-path="url(#wedge)">
<rect x="0" y="-70" width="150" height="140" fill="#c6c6c4"/>
<g fill="none" stroke="#e03030" stroke-width="1.2" stroke-dasharray="2,2"><circle r="62"/><circle r="108"/></g>
<circle cx="89" cy="0" r="4.5" fill="#30a0e0"/><circle cx="86" cy="-12" r="3.5" fill="#40c0e0"/><circle cx="68" cy="8" r="3" fill="#3070d0"/><circle cx="84" cy="22" r="3" fill="#30c070"/><circle cx="84" cy="46" r="4.5" fill="#30d070"/><circle cx="73" cy="9" r="3" fill="#40a0e0"/><circle cx="28" cy="12" r="1.5" fill="#2040c0"/><circle cx="103" cy="8" r="2.5" fill="#2050d0"/><circle cx="78" cy="-34" r="2" fill="#d02020"/><circle cx="87" cy="-20" r="2.5" fill="#30c050"/><circle cx="107" cy="-11" r="1.5" fill="#2050d0"/><circle cx="60" cy="-22" r="1.5" fill="#2040c0"/><circle cx="95" cy="30" r="2" fill="#2050d0"/>
</g></g>
<g transform="translate(1143,301)"><g clip-path="url(#wedge)">
<rect x="0" y="-70" width="150" height="140" fill="#c6c6c4"/>
<g fill="none" stroke="#e03030" stroke-width="1.2" stroke-dasharray="2,2"><circle r="60"/><circle r="105"/></g>
<circle cx="45" cy="-4" r="3.5" fill="#2040c0"/><circle cx="45" cy="-18" r="2.5" fill="#2040c0"/><circle cx="62" cy="14" r="3.5" fill="#20a0d0"/><circle cx="84" cy="-23" r="4" fill="#30c070"/><circle cx="84" cy="32" r="3" fill="#40c080"/><circle cx="89" cy="26" r="2.5" fill="#40c080"/>
<g fill="#2030c0"><circle cx="25" cy="-5" r="1.2"/><circle cx="32" cy="8" r="1.4"/><circle cx="38" cy="-12" r="1.2"/><circle cx="52" cy="6" r="1.5"/><circle cx="30" cy="15" r="1.2"/><circle cx="56" cy="-10" r="1.3"/><circle cx="40" cy="20" r="1.5"/><circle cx="66" cy="-2" r="1.2"/><circle cx="50" cy="25" r="1.3"/><circle cx="70" cy="20" r="1.5"/><circle cx="35" cy="0" r="1.2"/></g>
</g></g>

<g transform="translate(814,433)"><g clip-path="url(#wedge)">
<rect x="0" y="-70" width="150" height="140" fill="#c6c6c4"/>
<g fill="none" stroke-width="3.4">
<circle r="23" stroke="#2a3a30" stroke-width="2"/><circle r="26" stroke="#309a70"/><circle r="30" stroke="#50c8a0" stroke-dasharray="12 3 8 3"/><circle r="34" stroke="#6ad040" stroke-dasharray="15 4"/><circle r="38" stroke="#40c060"/><circle r="42" stroke="#e0a020" stroke-dasharray="9 5 14 3"/><circle r="46" stroke="#40c040"/><circle r="50" stroke="#d04020" stroke-dasharray="20 6"/><circle r="54" stroke="#80d040" stroke-dasharray="12 4"/><circle r="58" stroke="#30c0a0" stroke-dasharray="8 4 16 4"/><circle r="62" stroke="#50c050"/><circle r="66" stroke="#e0c030" stroke-dasharray="14 6"/><circle r="70" stroke="#40b060" stroke-dasharray="10 5"/><circle r="75" stroke="#d05020" stroke-dasharray="18 8"/><circle r="80" stroke="#60d060" stroke-dasharray="8 8"/><circle r="85" stroke="#30c0b0" stroke-dasharray="12 10"/><circle r="91" stroke="#e08030" stroke-dasharray="16 10"/><circle r="97" stroke="#50c070" stroke-dasharray="6 14"/>
</g>
<ellipse cx="115" cy="-20" rx="4" ry="9" fill="#40c0a0"/><ellipse cx="120" cy="10" rx="6" ry="3" fill="#40c0b0"/><ellipse cx="110" cy="30" rx="5" ry="3" fill="#50c0a0"/>
<ellipse cx="94" cy="20" rx="11" ry="23" transform="rotate(-12 94 20)" fill="none" stroke="#111" stroke-width="1.2"/>
</g></g>
<g transform="translate(979,433)"><g clip-path="url(#wedge)">
<rect x="0" y="-70" width="150" height="140" fill="#c6c6c4"/>
<g fill="none" stroke-width="3.4">
<circle r="23" stroke="#2a3a30" stroke-width="2"/><circle r="26" stroke="#309a70"/><circle r="30" stroke="#d05020" stroke-dasharray="14 3 8 3"/><circle r="34" stroke="#50c860"/><circle r="38" stroke="#e0c030" stroke-dasharray="10 4"/><circle r="42" stroke="#40c060"/><circle r="46" stroke="#30c0a0" stroke-dasharray="9 5 14 3"/><circle r="50" stroke="#d07020" stroke-dasharray="12 6"/><circle r="54" stroke="#70d040" stroke-dasharray="8 4"/><circle r="58" stroke="#e0a020" stroke-dasharray="10 4 6 4"/><circle r="62" stroke="#50c050" stroke-dasharray="7 3"/><circle r="66" stroke="#30c0b0" stroke-dasharray="5 4"/><circle r="70" stroke="#80d040" stroke-dasharray="6 5"/><circle r="75" stroke="#d06030" stroke-dasharray="10 8"/><circle r="80" stroke="#60c870" stroke-dasharray="5 6"/><circle r="86" stroke="#30c0b0" stroke-dasharray="7 8"/><circle r="92" stroke="#a0d040" stroke-dasharray="8 10"/><circle r="100" stroke="#50c0a0" stroke-dasharray="6 14"/>
</g>
<ellipse cx="115" cy="5" rx="4" ry="10" fill="#40c0a0"/><ellipse cx="108" cy="-30" rx="5" ry="3" fill="#40c080"/>
<ellipse cx="66" cy="0" rx="6" ry="14" fill="none" stroke="#111" stroke-width="1" stroke-dasharray="2,2"/>
</g></g>
<g transform="translate(1142,433)"><g clip-path="url(#wedge)">
<rect x="0" y="-70" width="150" height="140" fill="#c6c6c4"/>
<g fill="none" stroke-width="3">
<circle r="22" stroke="#2a3a30" stroke-width="2.5"/><circle r="26" stroke="#40b0c0" stroke-dasharray="3 2"/><circle r="30" stroke="#60c860" stroke-dasharray="4 2 2 2"/><circle r="34" stroke="#30a0e0" stroke-dasharray="3 3"/><circle r="38" stroke="#50c070" stroke-dasharray="2 2 4 2"/><circle r="42" stroke="#40c0c0" stroke-dasharray="3 2"/><circle r="46" stroke="#80d050" stroke-dasharray="4 3"/><circle r="50" stroke="#30b0d0" stroke-dasharray="3 2"/><circle r="54" stroke="#50c060" stroke-dasharray="2 3"/><circle r="58" stroke="#e0a030" stroke-dasharray="3 3"/><circle r="62" stroke="#40c070" stroke-dasharray="4 2"/>
<circle r="67" stroke="#d06030" stroke-width="4" stroke-dasharray="18 4"/><circle r="72" stroke="#e08030" stroke-width="4"/><circle r="77" stroke="#c84020" stroke-width="4" stroke-dasharray="25 5"/><circle r="82" stroke="#d06030" stroke-width="4" stroke-dasharray="14 6"/><circle r="87" stroke="#e0a040" stroke-width="3" stroke-dasharray="12 8"/><circle r="93" stroke="#40c080" stroke-dasharray="8 10"/><circle r="100" stroke="#d05020" stroke-width="5" stroke-dasharray="30 10"/><circle r="108" stroke="#40c0a0" stroke-dasharray="6 12"/>
</g>
<ellipse cx="125" cy="-25" rx="8" ry="4" fill="#40c080"/><ellipse cx="130" cy="40" rx="4" ry="8" fill="#40c070"/>
<ellipse cx="41" cy="2" rx="18" ry="24" fill="none" stroke="#222" stroke-width="1" stroke-dasharray="3,2"/>
</g></g>
<g class="ser" font-size="14" fill="#222">
<text x="835" y="478" textLength="93" lengthAdjust="spacingAndGlyphs">spanwise vortices</text>
<text x="980" y="389" textLength="98" lengthAdjust="spacingAndGlyphs">horseshoe vortices</text>
<text x="1127" y="478" textLength="93" lengthAdjust="spacingAndGlyphs">spanwise vortices</text>
</g>
<line x1="1037" y1="393" x2="1060" y2="407" stroke="#111" stroke-width="1" marker-end="url(#ah2)"/>

<rect x="817" y="503" width="138" height="5" fill="url(#jet)"/>
<rect x="989" y="503" width="138" height="5" fill="url(#jet)"/>
<rect x="1146" y="503" width="138" height="5" fill="url(#jet)"/>
<g class="ser" font-size="15" fill="#222">
<text x="817" y="527">0</text><text x="873" y="527"><tspan font-style="italic">p</tspan> (MPa)</text><text x="952" y="527">2</text>
<text x="983" y="527">-10</text><text x="1040" y="527"><tspan font-style="italic">u</tspan><tspan font-size="9" dy="3">x</tspan><tspan dy="-3"> (m/s)</tspan></text><text x="1117" y="527">60</text>
<text x="1146" y="527">0</text><text x="1192" y="527"><tspan font-style="italic">p</tspan><tspan font-size="9" dy="3" font-style="italic">imp</tspan><tspan dy="-3"> (MPa)</tspan></text><text x="1281" y="527">5</text>
</g>

<g clip-path="url(#noz)">
<rect x="885" y="535" width="410" height="245" fill="#22b06a"/>
<g filter="url(#blur)">
<ellipse cx="1080" cy="706" rx="130" ry="24" fill="#20d0c0"/>
<ellipse cx="1180" cy="745" rx="130" ry="30" fill="#e8c818"/>
<ellipse cx="1265" cy="765" rx="45" ry="18" fill="#d07010"/>
<ellipse cx="1130" cy="737" rx="100" ry="20" fill="#d00000"/>
<ellipse cx="1105" cy="728" rx="45" ry="10" fill="#c00000"/>
<ellipse cx="1035" cy="676" rx="108" ry="22" fill="#1030c8"/>
<ellipse cx="965" cy="658" rx="16" ry="12" fill="#1848d0"/>
<ellipse cx="1245" cy="688" rx="55" ry="24" fill="#48c030"/>
</g>
</g>
<g stroke="#8a8a90" stroke-width=".6">
<path d="M932,660 L960,655 L1023,658 L1093,663 L1107,670 L1097,678 L1060,688 L1040,697 L1000,697 L983,687 L953,673 L933,665 Z" fill="#cfcfd6"/>
<path d="M1023,707 L1047,700 L1087,687 L1080,697 L1047,710 L1027,712 Z" fill="#c8c8d0"/>
<ellipse cx="1145" cy="677" rx="17" ry="5" fill="#d0d0d6"/>
<ellipse cx="1125" cy="690" rx="6" ry="5" fill="#e0e0e4"/>
</g>
<path d="M960,670 C990,680 1020,685 1050,680" stroke="#b0b0bc" stroke-width="3" fill="none"/>
<g>
<circle cx="1062" cy="667" r="2" fill="#2030c0"/><circle cx="1126" cy="671" r="2" fill="#30a0e0"/><circle cx="1175" cy="673" r="2" fill="#f0c020"/><circle cx="1188" cy="675" r="2" fill="#f0c020"/><circle cx="1150" cy="686" r="1.5" fill="#8a1010"/><circle cx="1115" cy="704" r="3" fill="#e06020"/><circle cx="1110" cy="711" r="3" fill="#2040d0"/><circle cx="1111" cy="712" r="2" fill="#30a0e0"/><circle cx="1127" cy="709" r="2" fill="#3050d0"/><circle cx="1127" cy="702" r="1.5" fill="#8a1010"/><circle cx="1150" cy="705" r="1.5" fill="#8a1010"/><circle cx="1168" cy="704" r="1.5" fill="#e08020"/><circle cx="1171" cy="703" r="2" fill="#3050d0"/><circle cx="1177" cy="705" r="1.5" fill="#e08020"/><circle cx="1210" cy="705" r="1.8" fill="#1030a0"/><circle cx="1035" cy="709" r="2" fill="#30a0e0"/><circle cx="1075" cy="690" r="1.5" fill="#40c040"/><circle cx="1138" cy="700" r="1.5" fill="#8a1010"/><circle cx="1264" cy="673" r="1" fill="#203080"/>
</g>
<ellipse cx="1105" cy="723" rx="37" ry="10" fill="none" stroke="#222" stroke-width="1" stroke-dasharray="3,2"/>
<ellipse cx="1167" cy="702" rx="36" ry="9" fill="none" stroke="#222" stroke-width="1" stroke-dasharray="3,2"/>
<text x="1085" y="757" class="ser" font-size="17" fill="#151515" textLength="194" lengthAdjust="spacingAndGlyphs">Bubbles near the surface</text>

<text x="887" y="847" class="cjk" font-size="20" textLength="391" lengthAdjust="spacingAndGlyphs" style="font-family:'Liberation Sans','Noto Sans CJK SC',sans-serif">(c) 基于多尺度方法的喷管底板空蚀风险预报</text>
</svg>
</body></html>
